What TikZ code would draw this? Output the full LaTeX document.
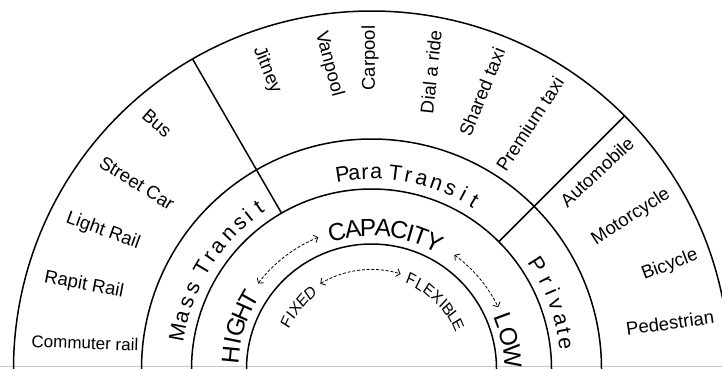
\documentclass[tikz,border=0pt]{standalone}
\usepackage{fontspec}
\setmainfont{Liberation Sans}
\usetikzlibrary{arrows.meta}
\begin{document}
\begin{tikzpicture}[x=1pt,y=1pt,
  ring/.style={line width=1.5pt},
  mode/.style={font=\fontsize{18.5}{18.5}\selectfont, inner sep=0pt},
  band/.style={font=\fontsize{21.5}{21.5}\selectfont, inner sep=0pt, anchor=base},
  capl/.style={font=\fontsize{24.5}{24.5}\selectfont, inner sep=0pt, anchor=base},
  flexl/.style={font=\fontsize{17}{17}\selectfont, inner sep=0pt, anchor=base, xscale=0.85},
  darr/.style={line width=0.8pt, dash pattern=on 3pt off 1.8pt, >={Straight Barb[length=3.5pt,width=8pt]}, <->}
]
\useasboundingbox (0,0) rectangle (722,368);
\clip (0,0) rectangle (722,368);
\coordinate (C) at (371.5,-1);
\coordinate (gl) at (0,1.5);
\coordinate (gr) at (722,1.5);
\draw[gray!45, line width=1.2pt] (gl) -- (gr);
% rings
\foreach \r in {125,180,230,358}
  \draw[ring] ([shift={(-3:\r)}]C) arc[start angle=-3, end angle=183, radius=\r];
% radial separators
\coordinate (s1a) at ([shift={(120:180)}]C);
\coordinate (s1b) at ([shift={(120:358)}]C);
\coordinate (s2a) at ([shift={(45:180)}]C);
\coordinate (s2b) at ([shift={(45:358)}]C);
\draw[ring] (s1a) -- (s1b);
\draw[ring] (s2a) -- (s2b);
% outer ring modes
\node[mode, rotate=-41] (bus) at (157,245) {Bus};
\node[mode, rotate=-32] (street) at (137,185) {Street Car};
\node[mode, rotate=-20] (light) at (103,137) {Light Rail};
\node[mode, rotate=-11] (rapit) at (84,83) {Rapit Rail};
\node[mode, rotate=-2, font=\fontsize{17}{17}\selectfont] (commuter) at (85,25) {Commuter rail};
\node[mode, rotate=-68] (jitney) at (267,298) {Jitney};
\node[mode, rotate=-75] (vanpool) at (329,304) {Vanpool};
\node[mode, rotate=90] (carpool) at (370,310) {Carpool};
\node[mode, rotate=84] (dial) at (431,296) {Dial a ride};
\node[mode, rotate=68] (shared) at (482,276) {Shared taxi};
\node[mode, rotate=57] (premium) at (530,244) {Premium taxi};
\node[mode, rotate=43] (auto) at (597,196) {Automobile};
\node[mode, rotate=33] (moto) at (631,151) {Motorcycle};
\node[mode, rotate=21] (bicycle) at (670,103) {Bicycle};
\node[mode, rotate=8] (ped) at (670,45) {Pedestrian};
\begin{scope}[shift={(C)}]
% middle ring
\foreach \a/\l [count=\i, evaluate=\a as \rr using \a-90] in
  {169.3/M,164.6/a,160.1/s,155.6/s,149.2/T,145.3/r,141.4/a,136.6/n,132.1/s,128.8/i,124.9/t}
  \node[band, rotate=\rr] (mt\i) at (\a:190) {\l};
\foreach \a/\l [count=\i, evaluate=\a as \rr using \a-90] in
  {98.4/P,95.0/a,91.9/r,88.6/a,83.0/T,79.2/r,75.2/a,70.7/n,66.3/s,62.2/i,58.6/t}
  \node[band, rotate=\rr] (pt\i) at (\a:190) {\l};
\foreach \a/\l [count=\i, evaluate=\a as \rr using \a-90] in
  {32.2/P,26.9/r,23.0/i,19.4/v,14.7/a,11.1/t,7.6/e}
  \node[band, rotate=\rr] (pv\i) at (\a:189) {\l};
% capacity ring
\foreach \a/\l [count=\i, evaluate=\a as \rr using \a-90] in
  {174.4/H,168.5/I,162.8/G,156.2/H,150.2/T}
  \node[capl, rotate=\rr] (hi\i) at (\a:133) {\l};
\foreach \a/\l [count=\i, evaluate=\a as \rr using \a-90] in
  {104.2/C,97.6/A,91.4/P,85.2/A,78.7/C,74.0/I,69.8/T,63.8/Y}
  \node[capl, rotate=\rr] (ca\i) at (\a:133) {\l};
\foreach \a/\l [count=\i, evaluate=\a as \rr using \a-90] in
  {20.3/L,13.1/O,5.0/W}
  \node[capl, rotate=\rr] (lo\i) at (\a:133) {\l};
% inner
\foreach \a/\l [count=\i, evaluate=\a as \rr using \a-90] in
  {151.3/F,146.4/I,141.6/X,135.6/E,129.2/D}
  \node[flexl, rotate=\rr] (fx\i) at (\a:92) {\l};
\foreach \a/\l [count=\i, evaluate=\a as \rr using \a-90] in
  {65.9/F,59.9/L,53.6/E,47.3/X,42.2/I,37.9/B,32.7/L,27.0/E}
  \node[flexl, rotate=\rr] (fl\i) at (\a:92) {\l};
% arrows
\coordinate (a1) at (143:142);
\coordinate (a2) at (54:141);
\coordinate (a3) at (121:99.5);
\draw[darr] (a1) arc[start angle=143, end angle=112, radius=142];
\draw[darr] (a2) arc[start angle=54, end angle=26, radius=141];
\draw[darr] (a3) arc[start angle=121, end angle=73, radius=99.5];
\end{scope}
\end{tikzpicture}
\end{document}
